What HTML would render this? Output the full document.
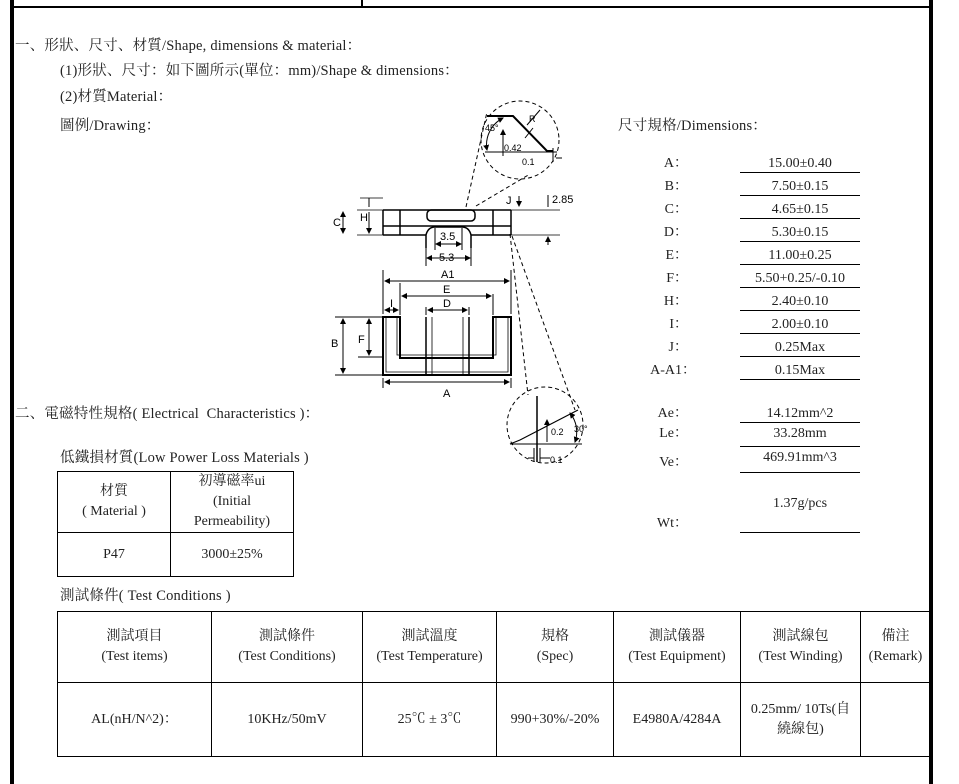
<!DOCTYPE html>
<html><head><meta charset="utf-8"><style>
body{margin:0;width:959px;height:784px;background:#fff;position:relative;overflow:hidden;font-family:"Liberation Serif","Noto Serif CJK SC",serif;font-size:14px;color:#222}
.t{position:absolute;white-space:nowrap;line-height:16px}
.h{font-size:14.5px;letter-spacing:0.2px}
.lb{position:absolute;width:60px;text-align:right;line-height:16px}
.v{position:absolute;left:740px;width:120px;text-align:center;border-bottom:1px solid #000;line-height:16px}
table{position:absolute;border-collapse:collapse}
td{border:1.5px solid #000;text-align:center;line-height:20px;padding:0;font-size:14px}
</style></head><body>
<div style="position:absolute;left:10px;top:0;width:4px;height:784px;background:#000"></div>
<div style="position:absolute;left:929px;top:0;width:4px;height:784px;background:#000"></div>
<div style="position:absolute;left:10px;top:6px;width:922px;height:2px;background:#000"></div>
<div style="position:absolute;left:361px;top:0;width:1.5px;height:7px;background:#000"></div>

<div class="t h" style="left:15px;top:38px">一、形狀、尺寸、材質/Shape, dimensions &amp; material：</div>
<div class="t h" style="left:60px;top:63px">(1)形狀、尺寸：如下圖所示(單位：mm)/Shape &amp; dimensions：</div>
<div class="t h" style="left:60px;top:89px">(2)材質Material：</div>
<div class="t h" style="left:60px;top:118px">圖例/Drawing：</div>
<div class="t h" style="left:618px;top:118px">尺寸規格/Dimensions：</div>

<div class="lb" style="left:628px;top:156px">A：</div><div class="v" style="top:156px">15.00±0.40</div>
<div class="lb" style="left:628px;top:179px">B：</div><div class="v" style="top:179px">7.50±0.15</div>
<div class="lb" style="left:628px;top:202px">C：</div><div class="v" style="top:202px">4.65±0.15</div>
<div class="lb" style="left:628px;top:225px">D：</div><div class="v" style="top:225px">5.30±0.15</div>
<div class="lb" style="left:628px;top:248px">E：</div><div class="v" style="top:248px">11.00±0.25</div>
<div class="lb" style="left:628px;top:271px">F：</div><div class="v" style="top:271px">5.50+0.25/-0.10</div>
<div class="lb" style="left:628px;top:294px">H：</div><div class="v" style="top:294px">2.40±0.10</div>
<div class="lb" style="left:628px;top:317px">I：</div><div class="v" style="top:317px">2.00±0.10</div>
<div class="lb" style="left:628px;top:340px">J：</div><div class="v" style="top:340px">0.25Max</div>
<div class="lb" style="left:628px;top:363px;width:68px">A-A1：</div><div class="v" style="top:363px">0.15Max</div>
<div class="lb" style="left:628px;top:406px">Ae：</div><div class="v" style="top:406px">14.12mm^2</div>
<div class="lb" style="left:628px;top:426px">Le：</div><div class="v" style="top:426px;padding-bottom:4px">33.28mm</div>
<div class="lb" style="left:628px;top:455px">Ve：</div><div class="v" style="top:450px;padding-bottom:6px">469.91mm^3</div>
<div class="t" style="left:740px;width:120px;text-align:center;top:496px">1.37g/pcs</div>
<div class="lb" style="left:628px;top:516px">Wt：</div><div style="position:absolute;left:740px;top:532px;width:120px;height:1px;background:#000"></div>

<div class="t h" style="left:15px;top:406px">二、電磁特性規格( Electrical&nbsp; Characteristics )：</div>
<div class="t h" style="left:60px;top:450px">低鐵損材質(Low Power Loss Materials )</div>
<table style="left:57px;top:471px;width:237px">
<tr style="height:61px"><td style="width:112px">材質<br>( Material )</td><td>初導磁率ui<br>(Initial<br>Permeability)</td></tr>
<tr style="height:44px"><td>P47</td><td>3000±25%</td></tr></table>
<div class="t h" style="left:60px;top:588px">測試條件( Test Conditions )</div>
<table style="left:57px;top:611px;width:873px">
<tr style="height:71px"><td style="width:153px">測試項目<br>(Test items)</td><td style="width:150px">測試條件<br>(Test Conditions)</td><td style="width:133px">測試溫度<br>(Test Temperature)</td><td style="width:116px">規格<br>(Spec)</td><td style="width:126px">測試儀器<br>(Test Equipment)</td><td style="width:119px">測試線包<br>(Test Winding)</td><td style="border-right:none">備注<br>(Remark)</td></tr>
<tr style="height:74px"><td>AL(nH/N^2)：</td><td>10KHz/50mV</td><td>25℃ ± 3℃</td><td>990+30%/-20%</td><td>E4980A/4284A</td><td>0.25mm/ 10Ts(自<br>繞線包)</td><td style="border-right:none"></td></tr></table>

<svg style="position:absolute;left:0;top:0" width="959" height="784" font-family="Liberation Sans,sans-serif" font-size="11">
<defs><marker id="a" markerWidth="6" markerHeight="6" refX="5" refY="3" orient="auto-start-reverse"><path d="M0,0L6,3L0,6z" fill="#000"/></marker></defs>
<g fill="none" stroke="#000" stroke-width="1">
<circle cx="520" cy="140" r="39" stroke-dasharray="4,3"/>
<circle cx="545" cy="425" r="38" stroke-dasharray="4,3"/>
<path d="M466,207L487,112M476,206L530,174" stroke-dasharray="4,3"/>
<path d="M510,234L528,395M512,236L575,410" stroke-dasharray="4,3"/>
<path d="M487,116H513L547,151H553" stroke-width="2"/>
<path d="M485,152H557"/>
<path d="M503,118A30,30 0 0 0 487,150" marker-start="url(#a)" marker-end="url(#a)"/>
<path d="M503,130V156" marker-start="url(#a)"/>
<path d="M533,128L525,138M527,125L540,110" />
<path d="M553,148V162M556,158h6"/>
<path d="M383,210H511M383,226H511M383,235H426M471,235H511M383,210V235M511,210V235M400,210V235M493,210V235" stroke-width="1.5"/>
<rect x="427" y="210" width="48" height="11" rx="4" stroke-width="1.5"/>
<path d="M426,248V235Q428,227 435,227H462Q469,227 471,235V248" stroke-width="1.5"/>
<path d="M357,210H383M357,235H383M360,198H383M511,210H560M511,235H560" stroke-width=".8"/>
<path d="M343,212V233" marker-start="url(#a)" marker-end="url(#a)"/>
<path d="M369,198V207M369,212V233" marker-end="url(#a)"/>
<path d="M435,228V250M462,228V250M426,248V266M471,248V266"/>
<path d="M436,244H461" marker-start="url(#a)" marker-end="url(#a)"/>
<path d="M427,258H470" marker-start="url(#a)" marker-end="url(#a)"/>
<path d="M548,195V207M548,245V237" marker-end="url(#a)"/>
<path d="M519,196V206" marker-end="url(#a)"/>
<path d="M383,317V375H511V317H493V358H400V317Z" stroke-width="2"/>
<path d="M386,317V372H508V317M496,317V355H397V317" stroke-width=".8"/>
<path d="M426,317V375M469,317V375" stroke-width="1.5"/>
<path d="M432,317V375M463,317V375" stroke-width=".8"/>
<path d="M432,358H463" stroke-dasharray="3,2"/>
<path d="M383,270V314M511,270V314M400,283V315M493,294V315M426,307V315M469,307V315M383,378V388M511,378V388"/>
<path d="M385,281H509" marker-start="url(#a)" marker-end="url(#a)"/>
<path d="M402,296H491" marker-start="url(#a)" marker-end="url(#a)"/>
<path d="M428,310H467" marker-start="url(#a)" marker-end="url(#a)"/>
<path d="M385,310H398" marker-start="url(#a)" marker-end="url(#a)"/>
<path d="M385,382H509" marker-start="url(#a)" marker-end="url(#a)"/>
<path d="M335,317H383M335,375H383M358,357H383"/>
<path d="M343,319V373" marker-start="url(#a)" marker-end="url(#a)"/>
<path d="M369,319V355" marker-start="url(#a)" marker-end="url(#a)"/>
<path d="M537,396V462" stroke-width="1.5"/>
<path d="M510,444L520,440L578,410" stroke-width="1.2"/>
<path d="M510,444H582"/>
<path d="M547,420V442" marker-start="url(#a)"/>
<path d="M570,413A30,30 0 0 1 575,442" marker-start="url(#a)" marker-end="url(#a)"/>
<path d="M534,448V462M540,448V462M528,458h6M540,458h10"/>
</g>
<g fill="#000">
<text x="485" y="131" font-size="9">45°</text><text x="529" y="122" font-size="9">R</text>
<text x="504" y="151" font-size="9">0.42</text><text x="522" y="165" font-size="9">0.1</text>
<text x="333" y="226">C</text><text x="360" y="221">H</text>
<text x="440" y="240">3.5</text><text x="439" y="261">5.3</text>
<text x="506" y="204">J</text><text x="552" y="203">2.85</text>
<text x="441" y="278">A1</text><text x="443" y="293">E</text><text x="443" y="307">D</text><text x="390" y="307">I</text>
<text x="331" y="347">B</text><text x="358" y="343">F</text><text x="443" y="397">A</text>
<text x="551" y="435" font-size="9">0.2</text><text x="574" y="432" font-size="9">30°</text><text x="550" y="463" font-size="9">0.1</text>
</g>
</svg>
</body></html>
